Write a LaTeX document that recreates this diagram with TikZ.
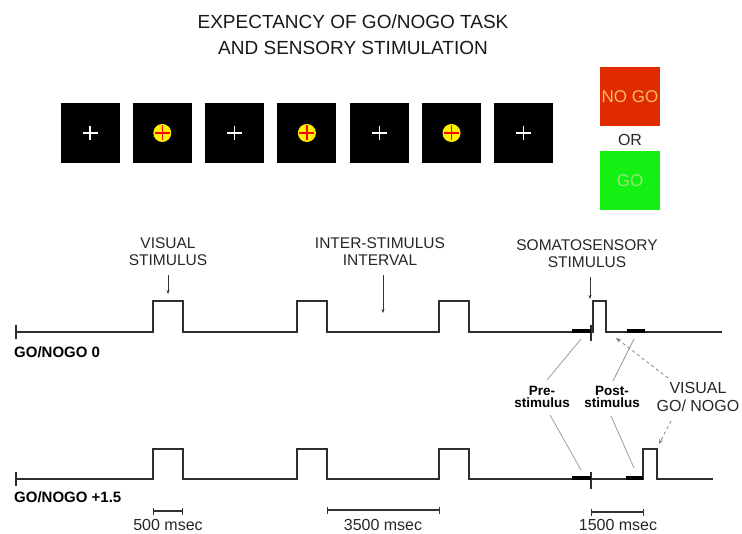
\documentclass[tikz,border=0pt]{standalone}
\usepackage{fontspec}
\setmainfont{Liberation Sans}
\usetikzlibrary{positioning, arrows.meta}

\definecolor{nogored}{HTML}{E02A00}
\definecolor{gogreen}{HTML}{14F014}
\definecolor{nogotext}{HTML}{F6BE5C}
\definecolor{gotext}{HTML}{98E878}
\definecolor{wavegray}{HTML}{2E2E2E}

\tikzset{
  screen/.style={fill=black, minimum width=59pt, minimum height=60pt, inner sep=0pt},
  cue/.style={fill=#1, minimum width=60pt, minimum height=59pt, inner sep=0pt,
    font=\fontsize{17}{19}\selectfont},
  lbl/.style={font=\fontsize{15.5}{17}\selectfont, align=center, inner sep=0pt,
    text=black!85},
  tag/.style={font=\bfseries\fontsize{15}{17}\selectfont, anchor=west, inner sep=0pt},
  small/.style={font=\bfseries\fontsize{13.5}{12.5}\selectfont, align=center, inner sep=0pt},
  wave/.style={draw=wavegray, line width=1.4pt},
  epoch/.style={draw=black, line width=4pt},
  leader/.style={draw=gray!85, line width=0.7pt},
  dasharr/.style={draw=gray, dashed, line width=0.8pt, -{Stealth[length=5pt,width=4pt]}},
  tickarr/.style={draw=black!80, line width=0.6pt, -{Stealth[length=4pt,width=3pt]}},
  scalebar/.style={draw=black!80, line width=1.2pt, {Bar[width=7pt]}-{Bar[width=7pt]}}
}

\begin{document}
\begin{tikzpicture}[x=1pt, y=-1pt]
\useasboundingbox (0,0) rectangle (742,534);

% title
\node[font=\fontsize{19}{26}\selectfont, align=center, text=black!90] (title)
    at (353,34.5) {EXPECTANCY OF GO/NOGO TASK\\AND SENSORY STIMULATION};

% screens
\foreach \i in {0,...,6}
  \node[screen] (s\i) at ({90+72.3*\i},133) {};
\foreach \i in {0,2,4,6}
  \draw[white, line width=1.3pt]
    ([xshift=-7.5pt]s\i.center) -- ([xshift=7.5pt]s\i.center)
    ([yshift=-7pt]s\i.center) -- ([yshift=7pt]s\i.center);
\foreach \i in {1,3,5} {
  \fill[yellow] (s\i.center) circle (9pt);
  \draw[red, line width=1.2pt]
    ([xshift=-7.5pt]s\i.center) -- ([xshift=7.5pt]s\i.center)
    ([yshift=-7.5pt]s\i.center) -- ([yshift=7.5pt]s\i.center);
}

% cues
\node[cue=nogored, text=nogotext] (nogo) at (630,97) {NO GO};
\node[lbl, font=\fontsize{16}{18}\selectfont] (or) at (630,140) {OR};
\node[cue=gogreen, text=gotext] (go) at (630,181) {GO};

% upper time line
\draw[wave] (16,325) -- (16,339);
\draw[wave] (16,332) -- (153,332) -- (153,301) -- (183,301) -- (183,332)
  -- (297,332) -- (297,301) -- (327,301) -- (327,332)
  -- (439,332) -- (439,301) -- (469,301) -- (469,332)
  -- (593,332) -- (593,301) -- (606,301) -- (606,332) -- (722,332);
\draw[wave] (591,325) -- (591,341);
\draw[epoch] (572,331) -- (591,331);
\draw[epoch] (627,331) -- (645,331);
\node[tag] (g0) at (14,352) {GO/NOGO 0};

% lower time line
\draw[wave] (16,472) -- (16,486);
\draw[wave] (16,479) -- (153,479) -- (153,449) -- (183,449) -- (183,479)
  -- (297,479) -- (297,449) -- (327,449) -- (327,479)
  -- (439,479) -- (439,449) -- (469,449) -- (469,479)
  -- (643,479) -- (643,449) -- (657,449) -- (657,479) -- (713,479);
\draw[wave] (591,472) -- (591,489);
\draw[epoch] (572,478) -- (591,478);
\draw[epoch] (626,478) -- (643,478);
\node[tag] (g15) at (14,497) {GO/NOGO +1.5};

% labels over the upper line
\node[lbl] (vis) at (168,251.5) {VISUAL\\STIMULUS};
\coordinate (visT) at (168,294);
\draw[tickarr, shorten <=9pt] (vis.south) -- (visT);

\node[lbl] (isi) at (380,251.5) {INTER-STIMULUS\\INTERVAL};
\coordinate (isiT) at (383,313);
\draw[tickarr, shorten <=9pt] (isi.south -| isiT) -- (isiT);

\node[lbl] (soma) at (587,254) {SOMATOSENSORY\\STIMULUS};
\coordinate (somaT) at (590,299);
\draw[tickarr, shorten <=9pt] (soma.south -| somaT) -- (somaT);

% epochs
\node[small] (pre) at (542,397) {Pre-\\stimulus};
\node[small] (post) at (612,397) {Post-\\stimulus};
\coordinate (preA) at (581,339);
\coordinate (preB) at (581,470);
\coordinate (postA) at (634,339);
\coordinate (postB) at (634,468);
\draw[leader] (547,380) -- (preA);
\draw[leader] (550,415) -- (preB);
\draw[leader] (613,381) -- (postA);
\draw[leader] (611,416) -- (postB);

\node[lbl, font=\fontsize{16}{17.5}\selectfont] (vgo) at (698,397) {VISUAL\\GO/ NOGO};
\coordinate (vgoA) at (616,338);
\coordinate (vgoB) at (659,444);
\draw[dasharr] (668,378) -- (vgoA);
\draw[dasharr] (671,421) -- (vgoB);

% time scales
\draw[scalebar] (153,511) -- (183,511);
\node[lbl, font=\fontsize{16}{18}\selectfont] (t500) at (168,525) {500 msec};
\draw[scalebar] (327,510) -- (440,510);
\node[lbl, font=\fontsize{16}{18}\selectfont] (t3500) at (383,525) {3500 msec};
\draw[scalebar] (591,512) -- (644,512);
\node[lbl, font=\fontsize{16}{18}\selectfont] (t1500) at (618,525) {1500 msec};
\end{tikzpicture}
\end{document}
